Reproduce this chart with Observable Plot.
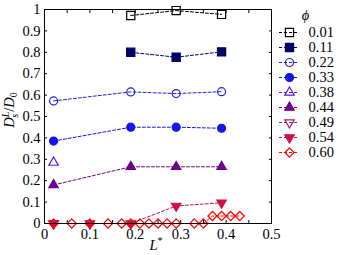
<!DOCTYPE html>
<html><head><meta charset="utf-8">
<script src="https://cdn.jsdelivr.net/npm/d3@7"></script>
<script src="https://cdn.jsdelivr.net/npm/@observablehq/plot@0.6"></script>
<style>
body{margin:0;background:#fff}
#wrap{position:relative;width:340px;height:255px}
#wrap svg.legend{position:absolute;left:270px;top:0}
</style>
</head><body><div id="wrap"></div><script>
// ---- data ----
const phis = ["0.01","0.11","0.22","0.33","0.38","0.44","0.49","0.54","0.60"];
const L01 = [0.19, 0.29, 0.39];              const D01 = [0.972, 0.995, 0.977];
const L11 = [0.19, 0.29, 0.39];              const D11 = [0.80, 0.777, 0.802];
const L22 = [0.02, 0.19, 0.29, 0.39];        const D22 = [0.573, 0.615, 0.607, 0.616];
const L33 = [0.02, 0.19, 0.29, 0.39];        const D33 = [0.385, 0.45, 0.45, 0.445];
const L38 = [0.02];                          const D38 = [0.285];
const L44 = [0.02, 0.19, 0.29, 0.39];        const D44 = [0.18, 0.265, 0.265, 0.265];
const L49 = [0.02];                          const D49 = [0];
const L54 = [0.02, 0.10, 0.19, 0.29, 0.39];  const D54 = [0, 0, 0, 0.082, 0.097];
const L60 = [0.02, 0.06, 0.10, 0.14, 0.17, 0.19, 0.21, 0.23, 0.25, 0.27, 0.29, 0.33, 0.35, 0.37, 0.39, 0.41, 0.43];
const D60 = [0, 0, 0, 0, 0, 0, 0, 0, 0, 0, 0, 0, 0, 0.035, 0.035, 0.035, 0.035];
const xTicks = [0, 0.1, 0.2, 0.3, 0.4, 0.5];
const xMinor = [0.05, 0.1, 0.15, 0.2, 0.25, 0.3, 0.35, 0.4, 0.45];
const yTicks = [0, 0.1, 0.2, 0.3, 0.4, 0.5, 0.6, 0.7, 0.8, 0.9, 1];

const Ls = [L01, L11, L22, L33, L38, L44, L49, L54, L60];
const Ds = [D01, D11, D22, D33, D38, D44, D49, D54, D60];

// ---- styles ----
const triDown = {
  draw(context, size) {
    const s3 = Math.sqrt(3);
    const y = -Math.sqrt(size / (s3 * 3));
    context.moveTo(0, -y * 2);
    context.lineTo(-s3 * y, y);
    context.lineTo(s3 * y, y);
    context.closePath();
  }
};
const colors  = ["#000000", "#000066", "#2222dd", "#1414ee", "#5a1ad2", "#700090", "#a02070", "#d01040", "#ff0000"];
const symbols = ["square", "square", "circle", "circle", "triangle", "triangle", triDown, triDown, "diamond2"];
const filled  = [false, true, false, true, false, true, false, true, false];
const radii   = [4.6, 4.6, 4, 4, 3.5, 3.5, 3.5, 3.5, 4.1];
const FONT = "Liberation Serif";
const fmt = d => String(d);

const seriesRows = phis.map((p, i) => Ls[i].map((L, j) => ({phi: p, L, D: Ds[i][j]})));

const marks = [];
seriesRows.forEach((rows, i) => {
  marks.push(Plot.line(rows, {x: "L", y: "D", stroke: colors[i], strokeWidth: 1, strokeDasharray: "3,2"}));
});
seriesRows.forEach((rows, i) => {
  marks.push(Plot.dot(rows, {x: "L", y: "D", symbol: symbols[i], r: radii[i],
    stroke: colors[i], strokeWidth: 1.2, fill: filled[i] ? colors[i] : "none"}));
});

const chart = Plot.plot({
  width: 340, height: 255,
  marginLeft: 44, marginRight: 69, marginTop: 9, marginBottom: 32,
  style: {fontFamily: FONT, fontSize: "14.5px", background: "white", color: "black"},
  x: {domain: [0, 0.5]},
  y: {domain: [0, 1]},
  marks: [
    Plot.axisX(xTicks, {tickSize: 0, tickPadding: 5, label: null, fontSize: 14.5, tickFormat: fmt}),
    Plot.axisX(xMinor, {tickSize: -3, fill: "none", label: null}),
    Plot.axisX(xMinor, {anchor: "top", tickSize: -3, fill: "none", label: null}),
    Plot.axisY(yTicks, {tickSize: 0, tickPadding: 4, label: null, fontSize: 14.5, tickFormat: fmt}),
    Plot.axisY(yTicks, {tickSize: -3, fill: "none", label: null}),
    Plot.axisY(yTicks, {anchor: "right", tickSize: -3, fill: "none", label: null}),
    ...marks,
    Plot.frame({stroke: "black", strokeWidth: 1})
  ]
});

// axis titles
const s = d3.select(chart);
const yl = s.append("text").attr("transform", "translate(14,110) rotate(-90)")
  .attr("text-anchor", "middle").attr("font-family", FONT).attr("font-size", 14.5)
  .attr("font-style", "italic").attr("fill", "black");
yl.append("tspan").text("D");
yl.append("tspan").attr("font-size", 10).attr("dy", -5).text("L");
yl.append("tspan").attr("font-size", 10).attr("dx", -6).attr("dy", 9).text("s");
yl.append("tspan").attr("dx", 2).attr("dy", -4).attr("font-style", "normal").text("/");
yl.append("tspan").text("D");
yl.append("tspan").attr("font-size", 10).attr("dy", 3).attr("font-style", "normal").text("0");

const xl = s.append("text").attr("x", 156).attr("y", 250)
  .attr("text-anchor", "middle").attr("font-family", FONT).attr("font-size", 14.5).attr("fill", "black");
xl.append("tspan").attr("font-style", "italic").text("L");
xl.append("tspan").attr("font-size", 10).attr("dy", -6).text("*");

// legend (separate small plot)
const legendMarks = [];
phis.forEach((p, i) => {
  legendMarks.push(Plot.ruleY([p], {y: d => d, stroke: colors[i], strokeWidth: 1, strokeDasharray: "3,2"}));
  legendMarks.push(Plot.dot([p], {y: d => d, frameAnchor: "middle", symbol: symbols[i], r: radii[i],
    stroke: colors[i], strokeWidth: 1.2, fill: filled[i] ? colors[i] : "none"}));
});
legendMarks.push(Plot.text(phis, {y: d => d, frameAnchor: "right", dx: 9, textAnchor: "start",
  lineAnchor: "middle", fill: "black", fontSize: 14.5}));
legendMarks.push(Plot.text(["ϕ"], {frameAnchor: "top-right", dx: 6, dy: -16, textAnchor: "middle",
  lineAnchor: "middle", fontStyle: "italic", fill: "black", fontSize: 14.5}));

const legend = Plot.plot({
  width: 70, height: 165,
  marginLeft: 9, marginRight: 41, marginTop: 31, marginBottom: 12,
  style: {fontFamily: FONT, fontSize: "14.5px", background: "transparent", color: "black", overflow: "visible"},
  x: {axis: null},
  y: {type: "point", domain: phis, padding: 0, axis: null},
  marks: legendMarks
});
legend.classList.add("legend");

const wrap = document.getElementById("wrap");
wrap.appendChild(chart);
wrap.appendChild(legend);
</script></body></html>
